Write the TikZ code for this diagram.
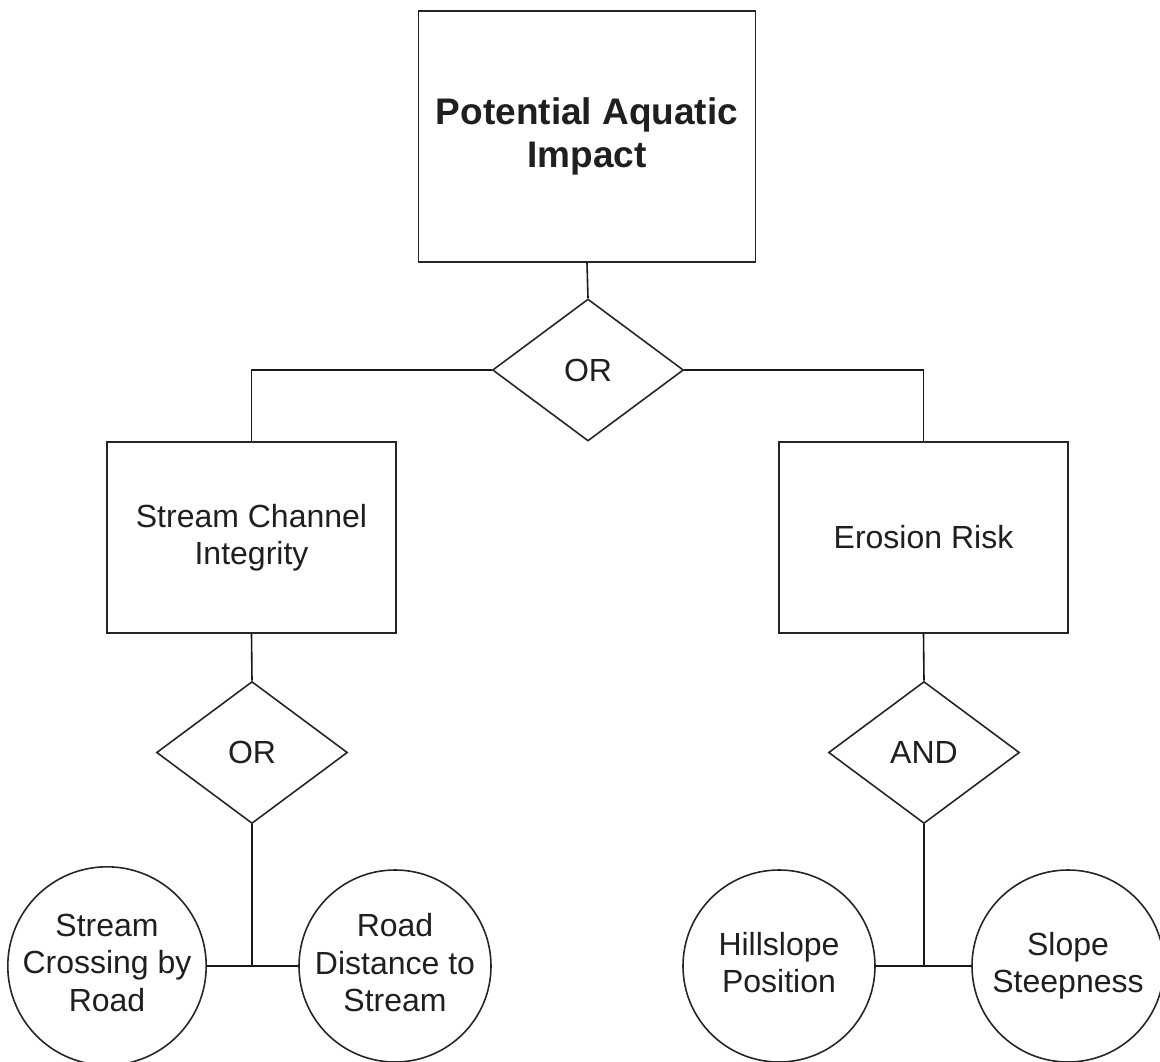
\documentclass[tikz,border=0pt]{standalone}
\usepackage{fontspec}
\setmainfont{Liberation Sans}
\usetikzlibrary{shapes.geometric}
\begin{document}
\begin{tikzpicture}[x=1pt,y=-1pt,
  ink/.style={draw=black!85,line width=1.6pt},
  lbl/.style={text=black!88,align=center,font=\fontsize{32}{37.5}\selectfont},
  factbox/.style={ink,lbl,rectangle,inner sep=0pt},
  gate/.style={ink,lbl,diamond,inner sep=0pt,minimum width=191pt,minimum height=142pt},
  leaf/.style={ink,lbl,circle,inner sep=0pt,minimum size=192pt,text depth=7pt},
  link/.style={draw=black!90,line width=1.6pt}]
\useasboundingbox (0,0) rectangle (1160,1061);
% goal and top-level gate
\node[factbox,minimum width=337pt,minimum height=251pt,
      font=\fontsize{37}{43}\selectfont\bfseries] (goal) at (587,136.5)
      {Potential Aquatic\\Impact};
\node[gate] (g0) at (588,370) {OR};
% intermediate factors
\node[factbox,minimum width=289pt,minimum height=191pt] (sci) at (251.5,537.5)
      {Stream Channel\\Integrity};
\node[factbox,minimum width=289pt,minimum height=191pt] (er) at (923.5,537.5)
      {Erosion Risk};
\node[gate] (g1) at (252,752.5) {OR};
\node[gate] (g2) at (924,752.5) {AND};
% input circles
\node[leaf] (c1) at (107,966) {Stream\\Crossing by\\Road};
\node[leaf] (c2) at (395,966) {Road\\Distance to\\Stream};
\node[leaf] (c3) at (779,966) {Hillslope\\Position};
\node[leaf] (c4) at (1068,966) {Slope\\Steepness};
\coordinate (j1) at (g1.south |- c1.east);
\coordinate (j2) at (g2.south |- c3.east);
% connectors
\draw[link] (goal.south) -- (g0.north);
\draw[link] (g0.west) -| (sci.north);
\draw[link] (g0.east) -| (er.north);
\draw[link] (sci.south) -- (g1.north);
\draw[link] (er.south) -- (g2.north);
\draw[link] (g1.south) -- (j1);
\draw[link] (g2.south) -- (j2);
\draw[link] (c1.east) -- (c2.west);
\draw[link] (c3.east) -- (c4.west);
\end{tikzpicture}
\end{document}
